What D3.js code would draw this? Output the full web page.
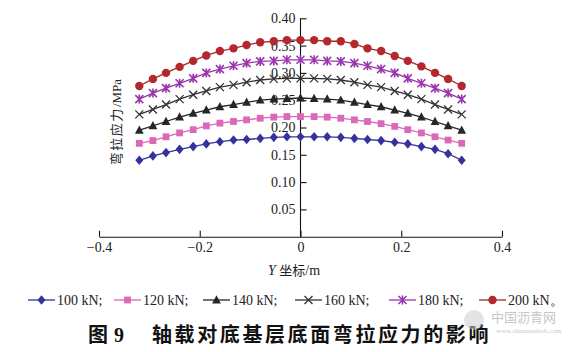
<!DOCTYPE html>
<html>
<head>
<meta charset="utf-8">
<script src="https://cdn.jsdelivr.net/npm/d3@7"></script>
<style>
    body { margin: 0; background: #fff; }
    svg text { font-family: "Liberation Serif", "DejaVu Serif", serif; }
    .cjk { font-family: "Noto Sans CJK SC", sans-serif; }
</style>
</head>
<body>
<div id="chart"></div>
<script>
// positions along the bottom surface (m)
const yPos = [-0.32, -0.293, -0.267, -0.24, -0.213, -0.187, -0.16, -0.133, -0.107, -0.08, -0.053, -0.027, 0,
    0.027, 0.053, 0.08, 0.107, 0.133, 0.16, 0.187, 0.213, 0.24, 0.267, 0.293, 0.32];

// flexural tensile stress (MPa) per axle load
const s100 = [0.140, 0.148, 0.154, 0.160, 0.165, 0.170, 0.174, 0.177, 0.178, 0.180, 0.182, 0.183, 0.183,
    0.183, 0.183, 0.182, 0.180, 0.178, 0.176, 0.173, 0.170, 0.165, 0.160, 0.152, 0.140];
const s120 = [0.171, 0.176, 0.183, 0.190, 0.196, 0.203, 0.208, 0.211, 0.214, 0.217, 0.219, 0.220, 0.220,
    0.220, 0.219, 0.217, 0.214, 0.211, 0.207, 0.202, 0.196, 0.190, 0.183, 0.177, 0.171];
const s140 = [0.195, 0.203, 0.211, 0.219, 0.226, 0.232, 0.238, 0.242, 0.246, 0.250, 0.252, 0.253, 0.254,
    0.253, 0.252, 0.250, 0.246, 0.242, 0.238, 0.232, 0.226, 0.219, 0.211, 0.203, 0.195];
const s160 = [0.224, 0.233, 0.242, 0.252, 0.260, 0.267, 0.274, 0.278, 0.283, 0.287, 0.289, 0.290, 0.290,
    0.290, 0.289, 0.287, 0.283, 0.278, 0.274, 0.267, 0.260, 0.252, 0.242, 0.233, 0.224];
const s180 = [0.252, 0.263, 0.272, 0.281, 0.290, 0.300, 0.307, 0.313, 0.318, 0.321, 0.322, 0.324, 0.324,
    0.324, 0.322, 0.321, 0.318, 0.313, 0.307, 0.300, 0.290, 0.281, 0.272, 0.263, 0.252];
const s200 = [0.276, 0.289, 0.300, 0.311, 0.322, 0.332, 0.340, 0.345, 0.351, 0.356, 0.358, 0.360, 0.360,
    0.360, 0.358, 0.358, 0.353, 0.345, 0.340, 0.331, 0.322, 0.312, 0.300, 0.289, 0.276];

const loads = ["100 kN;", "120 kN;", "140 kN;", "160 kN;", "180 kN;", "200 kN。"];
const xTicks = [-0.4, -0.2, 0, 0.2, 0.4];
const yTicks = [0.05, 0.10, 0.15, 0.20, 0.25, 0.30, 0.35, 0.40];

const series = [
    {name: loads[0], values: s100, color: "#36319c", line: "#36319c", mark: "diamond"},
    {name: loads[1], values: s120, color: "#dc68b9", line: "#dc68b9", mark: "square"},
    {name: loads[2], values: s140, color: "#262626", line: "#262626", mark: "triangle"},
    {name: loads[3], values: s160, color: "#333333", line: "#333333", mark: "cross"},
    {name: loads[4], values: s180, color: "#9a36ad", line: "#9a36ad", mark: "star"},
    {name: loads[5], values: s200, color: "#b3272d", line: "#9c2b2e", mark: "circle"}
];

const width = 572, height = 352;
const svg = d3.select("#chart").append("svg")
    .attr("width", width)
    .attr("height", height);

const x = d3.scaleLinear().domain([-0.4, 0.4]).range([99, 502]);
const y = d3.scaleLinear().domain([0, 0.4]).range([236.7, 18.3]);

// draw one marker of a given type at (cx, cy)
function drawMarker(g, type, cx, cy, color) {
    if (type === "diamond") {
        g.append("path").attr("d", `M${cx},${cy - 4.8}L${cx + 4},${cy}L${cx},${cy + 4.8}L${cx - 4},${cy}Z`)
            .attr("fill", color);
    } else if (type === "square") {
        g.append("rect").attr("x", cx - 3.4).attr("y", cy - 3.4).attr("width", 6.8).attr("height", 6.8)
            .attr("fill", color);
    } else if (type === "triangle") {
        g.append("path").attr("d", `M${cx},${cy - 4.8}L${cx + 4.4},${cy + 3.4}L${cx - 4.4},${cy + 3.4}Z`)
            .attr("fill", color);
    } else if (type === "cross") {
        g.append("path").attr("d", `M${cx - 4},${cy - 4}L${cx + 4},${cy + 4}M${cx - 4},${cy + 4}L${cx + 4},${cy - 4}`)
            .attr("stroke", color).attr("stroke-width", 1.3);
    } else if (type === "star") {
        g.append("path").attr("d", `M${cx - 4},${cy - 4}L${cx + 4},${cy + 4}M${cx - 4},${cy + 4}L${cx + 4},${cy - 4}M${cx},${cy - 4.5}L${cx},${cy + 4.5}`)
            .attr("stroke", color).attr("stroke-width", 1.6);
    } else {
        g.append("circle").attr("cx", cx).attr("cy", cy).attr("r", 4.2).attr("fill", color);
    }
}

// axes
const xAxis = d3.axisBottom(x).tickValues(xTicks).tickSizeInner(-6).tickSizeOuter(0)
    .tickFormat(d => d === 0 ? "0" : d3.format(".1f")(d).replace("-", "\u2212"));
const gx = svg.append("g").attr("transform", `translate(0,${y(0)})`).call(xAxis);
gx.selectAll("text").attr("font-size", 14).attr("fill", "#222")
    .attr("font-family", "Liberation Serif").attr("dy", "0.9em").attr("y", 3);

const yAxis = d3.axisLeft(y).tickValues(yTicks).tickSizeInner(-6).tickSizeOuter(0)
    .tickFormat(d3.format(".2f"));
const gy = svg.append("g").attr("transform", `translate(${x(0)},0)`).call(yAxis);
gy.selectAll("text").attr("font-size", 14).attr("fill", "#222")
    .attr("font-family", "Liberation Serif").attr("x", -5);
gy.select(".domain").attr("d", `M0,${y(0)}V${y(0.4)}`);

svg.selectAll(".domain, .tick line").attr("stroke", "#111").attr("stroke-width", 1.1);

// lines and markers
const line = d3.line().x((d, i) => x(yPos[i])).y(d => y(d));
series.forEach(s => {
    svg.append("path").datum(s.values)
        .attr("fill", "none")
        .attr("stroke", s.line)
        .attr("stroke-width", 1.3)
        .attr("d", line);
    const g = svg.append("g");
    s.values.forEach((v, i) => drawMarker(g, s.mark, x(yPos[i]), y(v), s.color));
});

// axis titles
svg.append("text")
    .attr("transform", `translate(121,${y(0.21)}) rotate(-90)`)
    .attr("text-anchor", "middle")
    .attr("font-size", 13)
    .attr("fill", "#222")
    .html('<tspan class="cjk" letter-spacing="1.5">弯拉应力</tspan>/MPa');

svg.append("text")
    .attr("x", 268).attr("y", 275)
    .attr("font-size", 14)
    .attr("fill", "#222")
    .html('<tspan font-style="italic">Y</tspan> <tspan class="cjk" font-size="13">坐标</tspan>/m');

// legend
const legendX = [28, 114, 203, 295, 389, 479];
series.forEach((s, i) => {
    const lx = legendX[i], ly = 300;
    svg.append("line").attr("x1", lx).attr("x2", lx + 27).attr("y1", ly).attr("y2", ly)
        .attr("stroke", s.line).attr("stroke-width", 1.3);
    const g = svg.append("g");
    drawMarker(g, s.mark, lx + 13.5, ly, s.color);
    svg.append("text").attr("x", lx + 29).attr("y", ly + 4.5)
        .attr("font-size", 14).attr("fill", "#222")
        .text(s.name);
});

// caption
svg.append("text").attr("class", "cjk").attr("x", 88).attr("y", 342)
    .attr("font-size", 20).attr("font-weight", "bold").attr("fill", "#111")
    .text("图");
svg.append("text").attr("x", 114).attr("y", 342)
    .attr("font-size", 20).attr("font-weight", "bold").attr("fill", "#111")
    .text("9");
svg.append("text").attr("class", "cjk").attr("x", 152).attr("y", 342)
    .attr("font-size", 20).attr("font-weight", "bold").attr("fill", "#111")
    .attr("letter-spacing", 2.6)
    .text("轴载对底基层底面弯拉应力的影响");

// watermark
const wm = svg.append("g").attr("opacity", 0.55);
wm.append("circle").attr("cx", 474).attr("cy", 320).attr("r", 10).attr("fill", "#cfcfcf");
wm.append("text").attr("class", "cjk").attr("x", 491).attr("y", 322)
    .attr("font-size", 13).attr("fill", "#9a9a9a").text("中国沥青网");
wm.append("text").attr("x", 496).attr("y", 333)
    .attr("font-size", 7).attr("fill", "#9a9a9a").attr("font-family", "Liberation Sans")
    .text("www.chinaasphalt.com");
</script>
</body>
</html>
